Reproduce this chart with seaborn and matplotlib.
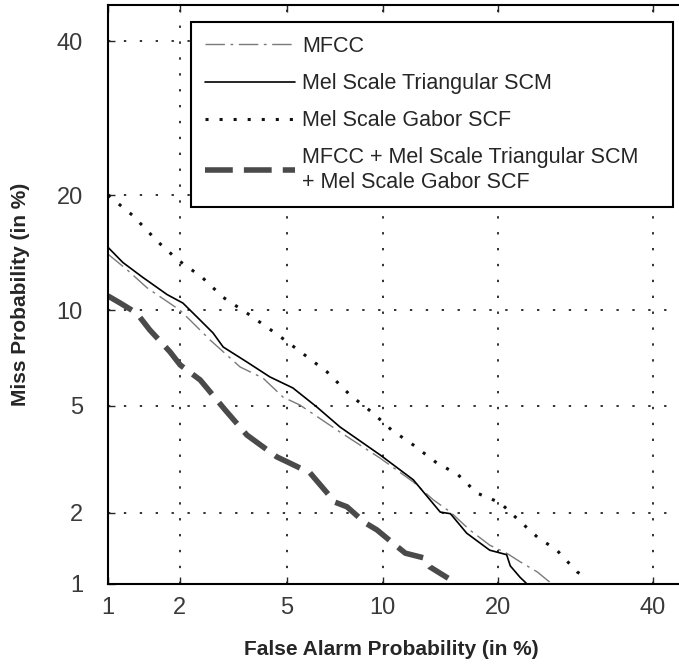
import numpy as np
import pandas as pd
import matplotlib
matplotlib.use("Agg")
import matplotlib.pyplot as plt
import seaborn as sns
from statistics import NormalDist

# ---- data (percent) ----
mfcc_fa = [1.0, 1.21, 1.47, 2.01, 2.63, 3.41, 4.12, 4.84, 5.52, 7.44, 9.82, 12.2, 13.8, 15.3, 17.1, 19.1, 20.9, 22.4, 24.4, 26.2]
mfcc_miss = [14.3, 13.0, 11.6, 10.0, 8.16, 6.71, 6.18, 5.34, 5.02, 4.04, 3.25, 2.64, 2.25, 2.01, 1.70, 1.47, 1.36, 1.25, 1.13, 1.0]

tri_fa = [1.0, 1.16, 1.41, 1.78, 2.06, 2.34, 2.70, 2.95, 3.61, 4.36, 5.23, 6.28, 7.44, 9.82, 12.2, 14.4, 15.3, 16.8, 19.1, 20.9, 21.3, 22.4, 23.2]
tri_miss = [14.9, 13.6, 12.4, 11.1, 10.5, 9.57, 8.57, 7.76, 6.96, 6.23, 5.73, 4.94, 4.21, 3.34, 2.69, 2.01, 1.98, 1.65, 1.40, 1.34, 1.20, 1.07, 1.0]

gabor_fa = [1.0, 1.28, 1.63, 1.97, 2.45, 2.95, 3.61, 4.65, 5.44, 6.77, 7.99, 9.37, 10.6, 12.2, 14.0, 16.0, 17.8, 20.2, 22.2, 24.4, 26.8, 29.4, 30.7]
gabor_miss = [20.0, 17.9, 15.4, 13.8, 12.4, 10.9, 9.82, 8.45, 7.60, 6.47, 5.43, 4.71, 4.11, 3.63, 3.14, 2.81, 2.39, 2.19, 1.87, 1.59, 1.40, 1.13, 1.06]

comb_fa = [1.0, 1.13, 1.33, 1.51, 1.83, 2.01, 2.41, 3.00, 3.61, 4.61, 5.11, 5.96, 7.18, 7.82, 8.87, 9.63, 10.7, 11.6, 13.0, 13.5, 15.1]
comb_miss = [11.0, 10.5, 9.82, 8.75, 7.49, 6.81, 6.09, 4.83, 3.94, 3.28, 3.11, 2.86, 2.20, 2.11, 1.82, 1.70, 1.50, 1.36, 1.30, 1.19, 1.06]

labels = ["MFCC", "Mel Scale Triangular SCM", "Mel Scale Gabor SCF",
          "MFCC + Mel Scale Triangular SCM\n+ Mel Scale Gabor SCF"]
tick_vals = [1, 2, 5, 10, 20, 40]
tick_labels = ["1", "2", "5", "10", "20", "40"]

# ---- probit scale ----
_nd = NormalDist()
_ppf = np.vectorize(lambda p: _nd.inv_cdf(p) if np.isfinite(p) else np.nan, otypes=[float])
_cdf = np.vectorize(lambda z: _nd.cdf(z) if np.isfinite(z) else np.nan, otypes=[float])


def fwd(pct):
    p = np.clip(np.asarray(pct, dtype=float) / 100.0, 1e-9, 1 - 1e-9)
    return _ppf(p)


def inv(z):
    return _cdf(np.asarray(z, dtype=float)) * 100.0


sns.set_style("ticks")
plt.rcParams["font.family"] = ["Liberation Sans", "DejaVu Sans"]

W, H = 679, 666
fig = plt.figure(figsize=(W / 100, H / 100), dpi=100)
ax = fig.add_axes([108 / W, 1 - 584 / H, 578.5 / W, 579 / H])
ax.set_xscale("function", functions=(fwd, inv))
ax.set_yscale("function", functions=(fwd, inv))

series = [
    (mfcc_fa, mfcc_miss, dict(color="#7a7a7a", linewidth=1.0, linestyle=(0, (14, 4, 2, 4)))),
    (tri_fa, tri_miss, dict(color="black", linewidth=1.2, linestyle="-")),
    (gabor_fa, gabor_miss, dict(color="#111111", linewidth=2.2, linestyle=(0, (1, 3.6)))),
    (comb_fa, comb_miss, dict(color="#4a4a4a", linewidth=4.0, linestyle=(0, (5, 2)))),
]
for (xs, ys, kw), lab in zip(series, labels):
    df = pd.DataFrame({"fa": xs, "miss": ys})
    sns.lineplot(data=df, x="fa", y="miss", sort=False, estimator=None,
                 ax=ax, label=lab, **kw)

ax.set_xlim(1, 45)
ax.set_ylim(1, 45.4)
ax.xaxis.set_major_locator(matplotlib.ticker.FixedLocator(tick_vals))
ax.yaxis.set_major_locator(matplotlib.ticker.FixedLocator(tick_vals))
ax.xaxis.set_minor_locator(matplotlib.ticker.NullLocator())
ax.yaxis.set_minor_locator(matplotlib.ticker.NullLocator())
ax.set_xticklabels(tick_labels)
ax.set_yticklabels(tick_labels)

ax.grid(True, linestyle=(0, (1.3, 7.5)), linewidth=1.3, color="#222222")
ax.set_axisbelow(True)
ax.tick_params(axis="both", which="both", direction="in", top=True, right=True,
               length=5, width=1, labelsize=17, labelcolor="#3a3a3a")
ax.tick_params(axis="y", pad=18)
ax.tick_params(axis="x", pad=9)
for s in ax.spines.values():
    s.set_linewidth(1.5)
    s.set_color("black")

ax.set_xlabel("False Alarm Probability (in %)", fontsize=15, fontweight="bold")
ax.set_ylabel("Miss Probability (in %)", fontsize=15, fontweight="bold")
ax.xaxis.set_label_coords(0.49, -0.097)
ax.yaxis.set_label_coords(-0.135, 0.5)

handles, labs = ax.get_legend_handles_labels()
leg = ax.legend(handles, labs, loc="upper left",
                bbox_to_anchor=(191 / W, 1 - 22 / H, (673 - 191) / W, 0.0),
                bbox_transform=fig.transFigure, mode="expand", borderaxespad=0,
                frameon=True, fancybox=False, edgecolor="black", framealpha=1,
                prop={"family": "Liberation Sans", "size": 15.5},
                handlelength=4.2, handletextpad=0.3, labelspacing=0.75, borderpad=0.65)
leg.get_frame().set_linewidth(1.5)

fig.savefig("out.png", dpi=100)
